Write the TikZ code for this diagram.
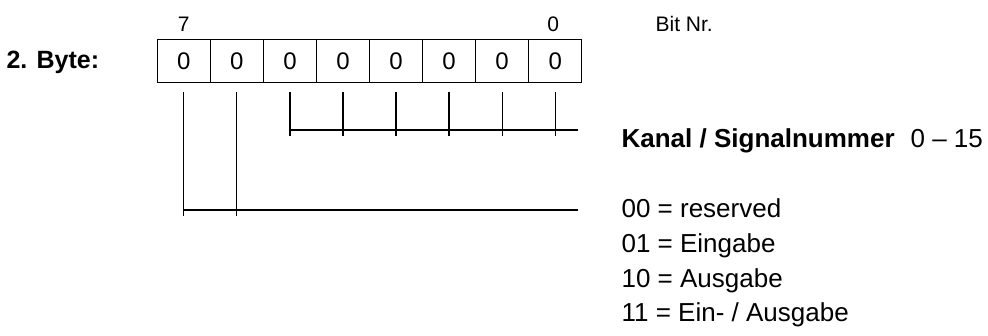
\documentclass[tikz,border=0pt]{standalone}
\usepackage{fontspec}
\setmainfont{Liberation Sans}
\usetikzlibrary{positioning}

\begin{document}
\begin{tikzpicture}[x=1pt, y=-1pt, line width=1.2pt,
  bitcell/.style={draw, minimum width=53.05pt, minimum height=43.4pt, inner sep=0pt, outer sep=0pt, font=\fontsize{24}{28}\selectfont},
  bitnum/.style={inner sep=0pt, anchor=base, font=\fontsize{21}{25}\selectfont},
  txt/.style={inner sep=0pt, anchor=base west, font=\fontsize{26}{30}\selectfont}]
\useasboundingbox (0,0) rectangle (988,336);
\node[anchor=base west, inner sep=0pt, font=\bfseries\fontsize{25}{30}\selectfont] (byte) at (6,69) {2. Byte:};
\node[bitcell, anchor=north west] (b7) at (157.3,39.3) {0};
\foreach \i [remember=\i as \j (initially 7)] in {6,5,...,0}{\node[bitcell, right=0pt of b\j] (b\i) {0};}
\node[bitnum] (n7) at ([yshift=7.6pt]b7.north) {7};
\node[bitnum] (n0) at ([xshift=-2pt,yshift=7.6pt]b0.north) {0};
\node[bitnum, anchor=base west] (bitnr) at (655,31.7) {Bit Nr.};
% Sammelleitungen
\coordinate (kanal) at (578,130);
\coordinate (art) at (578,210);
\foreach \i in {5,4,...,0}{\draw ([yshift=-9.3pt]b\i.south) -- ([yshift=-6pt]b\i.south |- kanal);}
\foreach \i in {7,6}{\draw ([yshift=-9.3pt]b\i.south) -- ([yshift=-6.5pt]b\i.south |- art);}
\draw (b5.south |- kanal) -- (kanal);
\draw (b7.south |- art) -- (art);
\node[txt, font=\bfseries\fontsize{26}{30}\selectfont] (kanallbl) at (621,148) {Kanal / Signalnummer};
\node[txt] (range) at (910,148) {0 -- 15};
\foreach \t/\y [count=\k] in {{00 = reserved}/218, {01 = Eingabe}/253, {10 = Ausgabe}/287.5, {11 = Ein- / Ausgabe}/322}{\node[txt] (art\k) at (621,\y) {\t};}
\end{tikzpicture}
\end{document}
